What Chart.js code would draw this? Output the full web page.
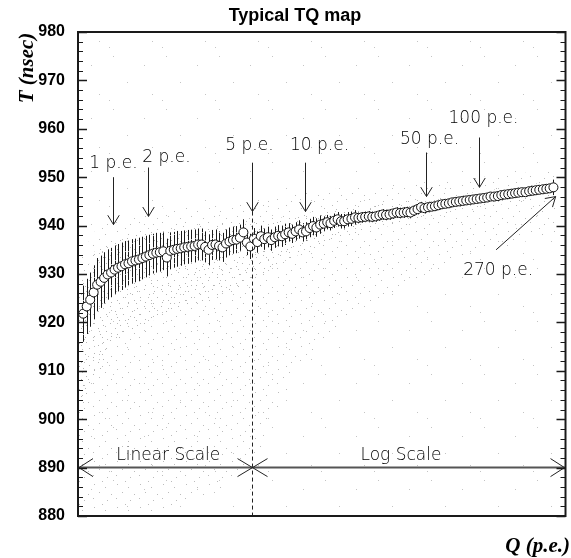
<!DOCTYPE html>
<html lang="en">
<head>
<meta charset="UTF-8">
<title>Typical TQ map</title>
<style>
  html, body { margin: 0; padding: 0; background: #fff; }
  #chart { display: block; }
</style>
</head>
<body>
<canvas id="chart" width="571" height="558"></canvas>
<script src="https://cdn.jsdelivr.net/npm/chart.js"></script>
<script>
// profile points, linear part (0 - 5 p.e.)
const linQ = [0.15, 0.25, 0.35, 0.45, 0.55, 0.65, 0.75, 0.85, 0.95, 1.05, 1.15, 1.25, 1.35, 1.45, 1.55, 1.65, 1.75,
  1.85, 1.95, 2.05, 2.15, 2.25, 2.35, 2.45, 2.55, 2.65, 2.75, 2.85, 2.95, 3.05, 3.15, 3.25, 3.35, 3.45, 3.55,
  3.65, 3.75, 3.85, 3.95, 4.05, 4.15, 4.25, 4.35, 4.45, 4.55, 4.65, 4.75, 4.85, 4.95];
const linT = [921.8, 923.3, 924.7, 926.2, 927.8, 928.4, 929.2, 929.9, 930.3, 930.9, 931.3, 931.6, 932.0, 932.2,
  932.6, 932.8, 933.0, 933.3, 933.6, 933.9, 934.2, 934.4, 934.5, 934.7, 933.4, 934.8, 935.0, 935.2, 935.3, 935.5,
  935.6, 935.7, 935.8, 936.1, 936.1, 935.6, 935.0, 936.0, 936.1, 935.8, 935.5, 936.3, 936.7, 937.0, 937.1, 937.5,
  938.6, 936.5, 935.7];
const linErr = [5.8, 5.7, 5.6, 5.6, 5.5, 5.4, 5.3, 5.2, 5.1, 5.0, 4.9, 4.9, 4.8, 4.7, 4.6, 4.5, 4.5, 4.4, 4.3, 4.2,
  4.1, 4.1, 4.0, 3.9, 3.9, 3.8, 3.7, 3.7, 3.6, 3.5, 3.5, 3.4, 3.4, 3.3, 3.3, 3.2, 3.2, 3.1, 3.1, 3.0, 3.0, 2.9,
  2.9, 2.8, 2.8, 2.7, 2.7, 2.6, 2.6];

// profile points, log part (5 - 270 p.e.)
const logQ = [5.12, 5.36, 5.61, 5.87, 6.15, 6.44, 6.75, 7.06, 7.40, 7.74, 8.11, 8.49, 8.89, 9.31, 9.75, 10.2,
  10.7, 11.2, 11.7, 12.3, 12.9, 13.5, 14.1, 14.8, 15.5, 16.2, 16.9, 17.7, 18.6, 19.5, 20.4, 21.3, 22.3, 23.4,
  24.5, 25.6, 26.9, 28.1, 29.4, 30.8, 32.3, 33.8, 35.4, 37.1, 38.8, 40.6, 42.6, 44.6, 46.7, 48.9, 51.2, 53.6,
  56.1, 58.7, 61.5, 64.4, 67.5, 70.6, 74.0, 77.4, 81.1, 84.9, 88.9, 93.1, 97.5, 102, 107, 112, 117, 123, 129,
  135, 141, 148, 155, 162, 169, 177, 186, 195, 204, 213, 223, 234, 245, 256, 269];
const logT = [937.3, 936.6, 937.8, 937.2, 937.6, 937.0, 937.6, 937.9, 937.8, 938.2, 938.6, 938.3, 938.8, 939.2,
  938.6, 938.8, 939.5, 939.9, 939.6, 940.2, 940.4, 940.7, 940.5, 941.0, 941.3, 940.9, 940.9, 941.3, 941.4, 941.7,
  941.6, 941.7, 941.8, 941.9, 941.8, 941.9, 942.1, 942.3, 942.2, 942.3, 942.5, 942.7, 942.6, 942.7, 942.8, 942.7,
  943.1, 943.4, 943.8, 943.6, 943.8, 943.9, 944.0, 944.2, 944.4, 944.5, 944.6, 944.8, 944.9, 945.0, 945.1, 945.2,
  945.3, 945.4, 945.5, 945.6, 945.7, 945.8, 946.0, 946.0, 946.1, 946.3, 946.4, 946.5, 946.6, 946.7, 946.8, 946.9,
  946.9, 947.1, 947.2, 947.3, 947.4, 947.5, 947.6, 947.7, 947.9];
const logErr = [2.2, 2.2, 2.2, 2.2, 2.2, 2.2, 2.2, 2.2, 2.2, 2.2, 1.9, 1.9, 1.9, 1.9, 1.9, 1.9, 1.9, 1.9, 1.9, 1.9,
  1.5, 1.5, 1.5, 1.5, 1.5, 1.5, 1.5, 1.5, 1.5, 1.5, 1.1, 1.1, 1.1, 1.1, 1.1, 1.1, 1.1, 1.1, 1.1, 1.1, 1.1, 1.1,
  1.1, 1.1, 1.1, 1.1, 1.1, 1.1, 1.1, 1.1, 0.8, 0.8, 0.8, 0.8, 0.8, 0.8, 0.8, 0.8, 0.8, 0.8, 0.8, 0.8, 0.8, 0.8,
  0.8, 0.8, 0.8, 0.8, 0.8, 0.8, 0.8, 0.8, 0.8, 0.8, 0.8, 0.8, 0.8, 0.8, 0.8, 0.8, 0.8, 0.8, 0.8, 0.8, 0.8, 0.8,
  1.6];

// extent of the hit scatter cloud
const cloudQ = [0, 0.5, 1, 2, 3, 4, 5, 7, 10, 20, 50, 100, 200, 280];
const wideHi = [933, 939, 941, 943, 944, 944, 945, 946, 947, 948, 949, 950, 951, 952];
const wideLo = [880, 880, 880, 880, 882, 885, 890, 902, 912, 922, 930, 934, 937, 938];
const denseHi = [926, 935, 937.5, 939, 940, 940.5, 941, 941.5, 942.5, 944, 945.5, 947, 948.5, 949.5];
const denseLo = [900, 908, 915, 920, 923, 925, 928, 932, 934.5, 938.5, 941.5, 943.5, 945.5, 946.5];

const yTicks = [880, 890, 900, 910, 920, 930, 940, 950, 960, 970, 980];

// arrows: q, top and tip in nsec, label baseline in nsec, label shift in px
const marks = [
  { text: '1 p.e.', q: 1, top: 950.0, tip: 940.2, ly: 952.0, dx: 0 },
  { text: '2 p.e.', q: 2, top: 952.0, tip: 941.9, ly: 953.2, dx: 18 },
  { text: '5 p.e.', q: 5, top: 953.0, tip: 942.9, ly: 955.7, dx: -3 },
  { text: '10 p.e.', q: 10, top: 953.0, tip: 942.9, ly: 955.7, dx: 14 },
  { text: '50 p.e.', q: 50, top: 955.1, tip: 946.0, ly: 956.8, dx: 3 },
  { text: '100 p.e.', q: 100, top: 958.2, tip: 947.9, ly: 961.2, dx: 4 }
];

const QBREAK = 5, QMAX = 315.5;
function toU(q) {
  return q <= QBREAK ? q : QBREAK + 5 * Math.log10(q / QBREAK);
}

// linear up to 5 p.e., log above
class LinLogScale extends Chart.LinearScale {
  static id = 'linlog';
  static defaults = Chart.LinearScale.defaults;
  getPixelForValue(v) {
    return this.getPixelForDecimal(toU(v) / toU(QMAX));
  }
  getValueForPixel(p) {
    const u = this.getDecimalForPixel(p) * toU(QMAX);
    return u <= QBREAK ? u : QBREAK * Math.pow(10, (u - QBREAK) / 5);
  }
}
Chart.register(LinLogScale);

function dotPattern(size, dots, color) {
  const c = document.createElement('canvas');
  c.width = size; c.height = size;
  const g = c.getContext('2d');
  g.fillStyle = color;
  dots.forEach(d => g.fillRect(d[0], d[1], 1, 1));
  return g.createPattern(c, 'repeat');
}

const ctx = document.getElementById('chart').getContext('2d');
const sparseFill = dotPattern(53, [[7, 3], [38, 12], [21, 29], [46, 41], [3, 47]], '#c4c4c4');
const wideFill = dotPattern(23, [[2, 1], [13, 4], [19, 11], [7, 9], [15, 17], [1, 15], [10, 21]], '#bcbcbc');
const denseFill = dotPattern(17, [[1, 2], [8, 0], [13, 5], [4, 8], [15, 11], [9, 13], [0, 14]], '#b4b4b4');

function pts(xs, ys) { return xs.map((x, i) => ({ x: x, y: ys[i] })); }

const profQ = linQ.concat(logQ);
const profT = linT.concat(logT);
const profE = linErr.concat(logErr);

const XL = 78;

const decor = {
  id: 'decor',
  beforeDatasetsDraw(chart) {
    const c = chart.ctx, xs = chart.scales.x, ys = chart.scales.y, a = chart.chartArea;
    c.save();
    c.beginPath(); c.rect(a.left, a.top, a.right - a.left, a.bottom - a.top); c.clip();
    c.strokeStyle = '#1a1a1a'; c.lineWidth = 1;
    profQ.forEach((q, i) => {
      const x = Math.round(xs.getPixelForValue(q)) + 0.5;
      c.beginPath();
      c.moveTo(x, ys.getPixelForValue(profT[i] + profE[i]));
      c.lineTo(x, ys.getPixelForValue(profT[i] - profE[i]));
      c.stroke();
    });
    c.restore();
  },
  afterDatasetsDraw(chart) {
    const c = chart.ctx, xs = chart.scales.x, ys = chart.scales.y, a = chart.chartArea;
    c.save();
    // dashed line at the scale break
    const xb = Math.round(xs.getPixelForValue(QBREAK)) + 0.5;
    c.strokeStyle = '#222'; c.lineWidth = 1; c.setLineDash([4, 3]);
    c.beginPath(); c.moveTo(xb, ys.getPixelForValue(942.9)); c.lineTo(xb, a.bottom); c.stroke();
    c.setLineDash([]);

    // arrows and labels
    c.font = '200 17px "DejaVu Sans ExtraLight", "DejaVu Sans", sans-serif';
    c.fillStyle = '#000'; c.textAlign = 'center'; c.textBaseline = 'alphabetic';
    function arrow(x1, y1, x2, y2) {
      const ang = Math.atan2(y2 - y1, x2 - x1), L = 11, W = 0.55;
      c.beginPath(); c.moveTo(x1, y1); c.lineTo(x2, y2);
      c.moveTo(x2 - L * Math.cos(ang - W), y2 - L * Math.sin(ang - W));
      c.lineTo(x2, y2);
      c.lineTo(x2 - L * Math.cos(ang + W), y2 - L * Math.sin(ang + W));
      c.stroke();
    }
    marks.forEach(m => {
      const x = Math.round(xs.getPixelForValue(m.q)) + 0.5;
      arrow(x, ys.getPixelForValue(m.top), x, ys.getPixelForValue(m.tip));
      c.fillText(m.text, x + m.dx, ys.getPixelForValue(m.ly));
    });
    arrow(xs.getPixelForValue(126), ys.getPixelForValue(935.0), xs.getPixelForValue(277), ys.getPixelForValue(946.0));
    c.fillText('270 p.e.', xs.getPixelForValue(126) + 2, ys.getPixelForValue(929.7));

    // linear / log scale bar
    const yb = ys.getPixelForValue(890);
    c.strokeStyle = '#555'; c.lineWidth = 2;
    c.beginPath(); c.moveTo(a.left, yb); c.lineTo(a.right, yb); c.stroke();
    c.lineWidth = 1; c.strokeStyle = '#222';
    c.beginPath();
    c.moveTo(a.left + 15, yb - 9); c.lineTo(a.left + 1, yb); c.lineTo(a.left + 15, yb + 9);
    c.moveTo(a.right - 15, yb - 9); c.lineTo(a.right - 1, yb); c.lineTo(a.right - 15, yb + 9);
    c.moveTo(xb - 15, yb - 9); c.lineTo(xb + 15, yb + 9);
    c.moveTo(xb - 15, yb + 9); c.lineTo(xb + 15, yb - 9);
    c.stroke();
    c.fillText('Linear Scale', (a.left + xb) / 2 + 3, ys.getPixelForValue(891.6));
    c.fillText('Log Scale', (xb + a.right) / 2 - 8, ys.getPixelForValue(891.6));

    // frame and inner ticks
    c.strokeStyle = '#1a1a1a';
    for (let v = 880; v <= 980; v += 2) {
      const y = Math.round(ys.getPixelForValue(v)) + 0.5;
      const len = v % 10 === 0 ? 9 : 5;
      c.lineWidth = v % 10 === 0 ? 1.5 : 1;
      c.beginPath();
      c.moveTo(a.left, y); c.lineTo(a.left + len, y);
      c.moveTo(a.right, y); c.lineTo(a.right - len, y);
      c.stroke();
    }
    c.lineWidth = 2;
    c.strokeRect(a.left, a.top, a.right - a.left, a.bottom - a.top);
    c.restore();
  },
  afterDraw(chart) {
    const c = chart.ctx;
    c.save();
    c.fillStyle = '#000';
    c.font = 'bold 18px "Liberation Sans", Arial, sans-serif';
    c.textAlign = 'center'; c.textBaseline = 'alphabetic';
    c.fillText('Typical TQ map', 295, 21);
    c.font = 'italic bold 21px "Liberation Serif", "Times New Roman", serif';
    c.textAlign = 'right';
    c.fillText('Q (p.e.)', 570, 552);
    c.translate(33, 68);
    c.rotate(-Math.PI / 2);
    c.textAlign = 'center';
    c.fillText('T (nsec)', 0, 0);
    c.restore();
  }
};

new Chart(ctx, {
  type: 'scatter',
  data: {
    datasets: [
      {
        label: 'noise',
        data: [{ x: 0, y: 980 }, { x: QMAX, y: 980 }],
        showLine: true, borderWidth: 0, pointRadius: 0,
        backgroundColor: sparseFill, fill: 'start', order: 5
      },
      {
        label: 'wideHi', data: pts(cloudQ, wideHi),
        showLine: true, borderWidth: 0, pointRadius: 0,
        backgroundColor: wideFill, fill: '+1', order: 4
      },
      {
        label: 'wideLo', data: pts(cloudQ, wideLo),
        showLine: true, borderWidth: 0, pointRadius: 0, fill: false, order: 4
      },
      {
        label: 'denseHi', data: pts(cloudQ, denseHi),
        showLine: true, borderWidth: 0, pointRadius: 0,
        backgroundColor: denseFill, fill: '+1', order: 3
      },
      {
        label: 'denseLo', data: pts(cloudQ, denseLo),
        showLine: true, borderWidth: 0, pointRadius: 0, fill: false, order: 3
      },
      {
        label: 'profile', data: pts(profQ, profT),
        pointRadius: 4.5, pointBorderWidth: 1,
        pointBackgroundColor: '#fff', pointBorderColor: '#111', order: 1
      }
    ]
  },
  options: {
    responsive: false,
    animation: false,
    events: [],
    layout: { padding: { top: 32, right: 1, left: 0, bottom: 0 } },
    plugins: { legend: { display: false }, tooltip: { enabled: false }, title: { display: false } },
    scales: {
      x: {
        type: 'linlog', min: 0, max: QMAX,
        grid: { display: false, drawTicks: false },
        border: { display: false },
        ticks: { display: false },
        afterFit: s => { s.height = 42; }
      },
      y: {
        min: 880, max: 980,
        grid: { display: false, drawTicks: false },
        border: { display: false },
        afterBuildTicks: s => { s.ticks = yTicks.map(v => ({ value: v })); },
        ticks: {
          padding: 13, color: '#000',
          font: { family: '"Liberation Sans", Arial, sans-serif', size: 16, weight: 'bold' }
        },
        afterFit: s => { s.width = XL; }
      }
    }
  },
  plugins: [decor]
});
</script>
</body>
</html>
